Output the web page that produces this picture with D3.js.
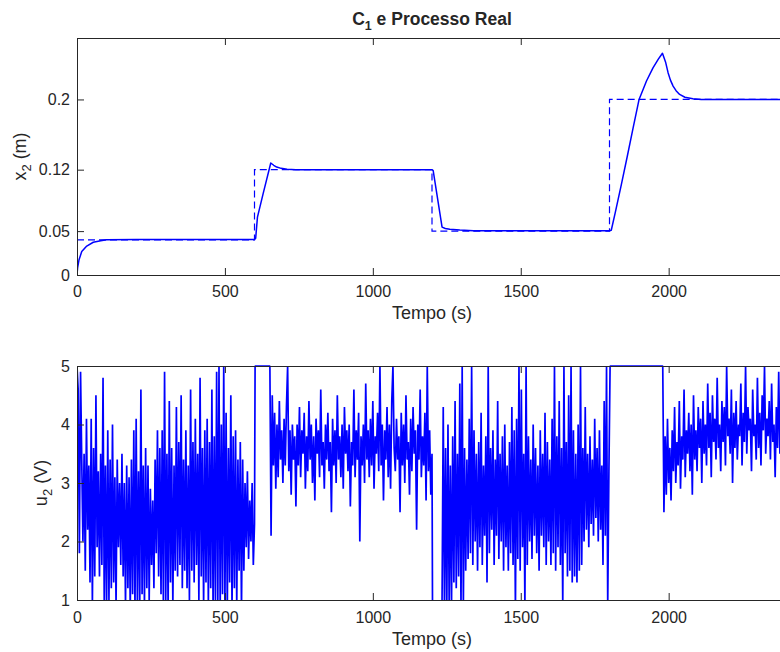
<!DOCTYPE html>
<html><head><meta charset="utf-8">
<script src="https://cdn.jsdelivr.net/npm/d3@7"></script>
<style>
body{margin:0;background:#fff}
svg{display:block}
text{font-family:"Liberation Sans",Arial,Helvetica,sans-serif;fill:#262626}
</style>
</head><body>
<svg id="c" width="780" height="652"></svg>
<script>
// ---- data ----
const xTicks = [0, 500, 1000, 1500, 2000];
const x2Ticks = [0, 0.05, 0.12, 0.2];
const u2Ticks = [1, 2, 3, 4, 5];

// reference (setpoint), step after
const refTime  = [0, 600, 1200, 1800, 2400];
const refValue = [0.04, 0.12, 0.05, 0.2, 0.2];

// process output x2
const x2Time  = [0, 2, 6.6, 16, 33, 55, 80, 100, 200, 600, 604, 610, 629, 655, 665, 675, 690, 710, 740,
                 1200, 1204, 1234, 1245, 1260, 1294, 1340, 1800, 1806, 1820, 1840, 1860, 1880, 1900, 1925,
                 1947, 1965, 1979, 1990, 1998, 2006, 2015, 2025, 2037, 2055, 2082, 2110, 2400];
const x2Value = [0, 0.008, 0.017, 0.0267, 0.033, 0.0373, 0.039, 0.0402, 0.0405, 0.0405, 0.042, 0.066, 0.0925, 0.1276, 0.125, 0.123, 0.1215, 0.1205, 0.12,
                 0.12, 0.119, 0.0545, 0.053, 0.052, 0.0512, 0.0505, 0.0505, 0.051, 0.072, 0.103, 0.135, 0.168, 0.2, 0.221,
                 0.236, 0.246, 0.2526, 0.242, 0.2305, 0.222, 0.2152, 0.21, 0.2057, 0.2025, 0.2008, 0.2, 0.2];

// control signal u2, sampled every u2Dt seconds in four segments
const u2Dt = 4;
const u2StartA = 0;
const u2A = [
 5, 4.6, 1.8, 4.9, 3.4, 2.0, 3.5, 1.5, 4.1, 2.2,
 3.3, 1.3, 4.1, 0.9, 3.6, 1.4, 4.5, 1.9, 3.2, 1.4,
 3.5, 1.6, 4.8, 1.0, 3.3, 0.8, 3.9, 1.0, 3.4, 1.2,
 4.0, 1.3, 3.1, 0.9, 3.4, 1.9, 3.0, 1.6, 3.5, 1.4,
 3.0, 0.9, 3.3, 1.2, 3.1, 0.8, 3.4, 1.1, 3.9, 0.8,
 4.1, 1.0, 3.2, 0.8, 4.6, 1.1, 3.3, 0.9, 3.6, 1.2,
 3.3, 1.0, 2.9, 1.6, 2.7, 1.2, 3.4, 1.8, 3.9, 1.4,
 3.6, 1.1, 3.9, 0.9, 4.9, 1.0, 3.5, 0.8, 4.4, 1.3,
 3.6, 0.9, 3.3, 1.5, 4.3, 1.4, 3.7, 1.6, 4.5, 1.2,
 3.4, 1.5, 3.9, 1.2, 3.3, 1.0, 4.6, 1.5, 3.7, 1.3,
 4.1, 1.6, 3.5, 1.0, 4.8, 1.4, 3.6, 0.9, 3.9, 1.3,
 4.1, 0.9, 3.7, 1.2, 4.6, 0.8, 3.8, 0.9, 4.9, 1.0,
 5.0, 0.8, 4.0, 1.1, 5.0, 0.9, 4.2, 0.8, 3.6, 1.3,
 4.5, 0.8, 3.8, 1.2, 3.9, 0.9, 3.4, 1.5, 3.7, 0.8,
 3.4, 1.5, 3.0, 1.9, 3.2, 1.7, 2.7, 2.0, 3.0, 1.6,
 2.3];
const u2StartB = 656;
const u2B = [
 2.1, 4.5, 3.3, 4.2, 2.9, 4.0, 3.1, 4.4, 3.4, 3.9,
 3.0, 4.1, 3.3, 4.3, 5.0, 3.2, 3.9, 2.8, 4.0, 3.4,
 3.8, 2.6, 4.0, 3.3, 4.3, 3.1, 3.9, 3.5, 4.2, 2.9,
 3.8, 3.2, 4.4, 3.4, 4.0, 3.0, 3.8, 2.7, 4.1, 3.5,
 3.9, 3.1, 4.6, 3.3, 3.7, 2.9, 4.0, 3.4, 4.2, 3.2,
 3.7, 2.5, 4.1, 3.3, 3.9, 3.0, 4.5, 3.4, 3.8, 3.1,
 4.0, 2.9, 4.3, 3.5, 3.9, 3.2, 4.0, 2.6, 3.7, 3.3,
 4.6, 3.1, 3.9, 3.4, 4.2, 2.0, 3.8, 3.3, 4.0, 3.0,
 4.7, 3.4, 3.9, 3.1, 4.1, 3.3, 4.4, 2.9, 3.8, 3.5,
 4.2, 3.2, 5.0, 3.3, 4.0, 2.7, 3.9, 3.4, 4.3, 3.1,
 4.0, 2.9, 4.4, 5.0, 3.6, 3.2, 4.1, 3.4, 3.8, 2.5,
 4.2, 3.3, 4.0, 3.0, 4.5, 3.4, 3.7, 2.8, 4.1, 3.2,
 4.3, 3.5, 3.9, 2.2, 4.0, 3.4, 4.6, 3.1, 3.8, 3.3,
 4.2, 2.7, 5.0, 3.2, 3.9, 2.8, 3.5];
const u2StartC = 1234;
const u2C = [
 1.0, 4.3, 0.8, 3.6, 0.8, 4.0, 0.9, 3.3, 0.9, 3.8,
 1.3, 4.4, 1.2, 3.5, 1.4, 4.7, 0.8, 5.0, 0.9, 3.6,
 1.5, 3.4, 1.7, 4.1, 1.8, 5.0, 1.6, 3.9, 2.0, 3.5,
 1.5, 3.7, 1.9, 4.2, 1.6, 3.3, 2.1, 3.8, 1.3, 5.0,
 1.8, 3.6, 2.2, 3.9, 1.6, 3.4, 2.1, 4.4, 1.7, 3.5,
 2.0, 3.8, 1.5, 4.0, 1.9, 3.3, 1.5, 3.7, 1.8, 4.3,
 1.6, 3.9, 0.8, 4.1, 1.7, 5.0, 1.5, 4.6, 1.9, 3.5,
 0.9, 5.0, 1.6, 3.8, 2.0, 3.4, 1.7, 4.0, 2.1, 3.6,
 1.8, 3.3, 1.5, 3.9, 2.1, 3.5, 1.9, 4.2, 1.6, 3.7,
 2.0, 3.4, 1.6, 4.1, 1.8, 5.0, 1.5, 3.8, 1.9, 4.4,
 1.6, 3.6, 0.9, 5.0, 1.8, 3.7, 1.4, 4.5, 1.5, 5.0,
 1.3, 3.9, 1.4, 3.5, 1.3, 4.0, 1.5, 5.0, 1.6, 3.6,
 2.0, 4.3, 2.2, 3.5, 1.9, 3.8, 2.3, 3.4, 2.1, 4.1,
 2.4, 3.6, 2.0, 3.9, 2.2, 3.3, 1.6, 4.4, 2.1, 5.0,
 0.9, 3.2];
const u2StartD = 1984;
const u2D = [
 2.5, 3.8, 2.8, 4.1, 3.0, 3.6, 2.7, 3.9, 3.2, 4.3,
 3.0, 3.7, 3.3, 4.4, 2.9, 3.8, 3.4, 4.6, 3.1, 3.9,
 3.5, 4.2, 3.2, 4.0, 2.8, 4.5, 3.4, 3.9, 3.2, 4.3,
 3.6, 4.1, 3.0, 4.4, 3.5, 4.0, 3.3, 4.7, 3.6, 4.2,
 3.1, 4.5, 3.7, 4.1, 3.4, 4.8, 3.6, 4.0, 3.2, 4.4,
 3.7, 4.3, 3.3, 5.0, 3.8, 4.1, 3.5, 4.6, 3.0, 4.2,
 3.6, 4.4, 3.4, 4.0, 3.8, 4.7, 3.3, 4.2, 3.7, 5.0,
 3.5, 4.3, 3.9, 4.1, 3.2, 4.6, 3.8, 4.0, 3.4, 4.8,
 3.6, 4.2, 3.3, 4.5, 3.9, 5.0, 3.5, 4.1, 3.8, 4.4,
 3.4, 4.7, 3.7, 4.0, 3.1, 4.3, 3.6, 4.9, 3.5, 4.2,
 3.8, 4.4, 3.3, 4.1, 3.7];
// saturated stretches (upper limit 5, lower below axis)
const u2SatTime  = [602, 652, 1202, 1230, 1802, 1980];
const u2SatValue = [5, 5, 0.5, 0.5, 5, 5];

// ---- drawing ----
const svg = d3.select("#c");
const L = 77, R = 787;
const top1 = 38, bot1 = 275, top2 = 366, bot2 = 600;
const x = d3.scaleLinear().domain([0, 2400]).range([L, R]);
const y1 = d3.scaleLinear().domain([0, 0.27]).range([bot1, top1]);
const y2 = d3.scaleLinear().domain([1, 5]).range([bot2, top2]);
const axisColor = "#262626";
const fontFam = '"Liberation Sans",Arial,Helvetica,sans-serif';
const fmt = d => String(d);

const defs = svg.append("defs");
defs.append("clipPath").attr("id", "clip1").append("rect")
  .attr("x", L).attr("y", top1 - 1).attr("width", R - L).attr("height", bot1 - top1 + 2);
defs.append("clipPath").attr("id", "clip2").append("rect")
  .attr("x", L).attr("y", top2 - 1).attr("width", R - L).attr("height", bot2 - top2 + 1);

function styleAxis(g, showLabels) {
  g.attr("font-size", 16).attr("font-family", fontFam);
  g.select(".domain").attr("stroke", axisColor);
  g.selectAll(".tick line").attr("stroke", axisColor);
  g.selectAll(".tick text").attr("fill", axisColor);
  if (!showLabels) g.selectAll(".tick text").remove();
}

function drawAxes(y, yTicks, top, bot, pad) {
  svg.append("g").attr("transform", `translate(0,${bot})`)
    .call(d3.axisBottom(x).tickValues(xTicks).tickFormat(fmt).tickSizeInner(-7).tickSizeOuter(0).tickPadding(pad))
    .call(g => styleAxis(g, true));
  svg.append("g").attr("transform", `translate(0,${top})`)
    .call(d3.axisTop(x).tickValues(xTicks).tickSizeInner(-7).tickSizeOuter(0))
    .call(g => styleAxis(g, false));
  svg.append("g").attr("transform", `translate(${L},0)`)
    .call(d3.axisLeft(y).tickValues(yTicks).tickFormat(fmt).tickSizeInner(-7).tickSizeOuter(0).tickPadding(7))
    .call(g => styleAxis(g, true));
  svg.append("g").attr("transform", `translate(${R},0)`)
    .call(d3.axisRight(y).tickValues(yTicks).tickSizeInner(-7).tickSizeOuter(0))
    .call(g => styleAxis(g, false));
}

// ---- top plot ----
const refData = refTime.map((t, i) => [t, refValue[i]]);
const x2Data = x2Time.map((t, i) => [t, x2Value[i]]);

const gp1 = svg.append("g").attr("clip-path", "url(#clip1)");
gp1.append("path").datum(refData)
  .attr("d", d3.line().x(d => x(d[0])).y(d => y1(d[1])).curve(d3.curveStepAfter))
  .attr("fill", "none").attr("stroke", "#0000ff").attr("stroke-width", 1.2)
  .attr("stroke-dasharray", "7,4");
gp1.append("path").datum(x2Data)
  .attr("d", d3.line().x(d => x(d[0])).y(d => y1(d[1])))
  .attr("fill", "none").attr("stroke", "#0000ff").attr("stroke-width", 1.5)
  .attr("stroke-linejoin", "round");

drawAxes(y1, x2Ticks, top1, bot1, 10.5);

// ---- bottom plot ----
const segs = [[u2StartA, u2A], [u2StartB, u2B], [u2StartC, u2C], [u2StartD, u2D]];
let u2Data = segs.flatMap(([s, vals]) => vals.map((v, i) => [s + i * u2Dt, v]));
u2Data = u2Data.concat(u2SatTime.map((t, i) => [t, u2SatValue[i]]));
u2Data.sort((a, b) => a[0] - b[0]);

svg.append("g").attr("clip-path", "url(#clip2)")
  .append("path").datum(u2Data)
  .attr("d", d3.line().x(d => x(d[0])).y(d => y2(d[1])))
  .attr("fill", "none").attr("stroke", "#0000ff").attr("stroke-width", 1.7)
  .attr("stroke-linejoin", "bevel");

drawAxes(y2, u2Ticks, top2, bot2, 11.5);

// ---- texts ----
const title = svg.append("text").attr("x", (L + R) / 2).attr("y", 24.5)
  .attr("text-anchor", "middle").attr("font-size", 17.5).attr("font-weight", "bold");
title.append("tspan").text("C");
title.append("tspan").attr("font-size", 12.5).attr("dy", 5).text("1");
title.append("tspan").attr("dy", -5).text(" e Processo Real");

svg.append("text").attr("x", (L + R) / 2).attr("y", 319).attr("text-anchor", "middle")
  .attr("font-size", 18).text("Tempo (s)");
svg.append("text").attr("x", (L + R) / 2).attr("y", 645).attr("text-anchor", "middle")
  .attr("font-size", 18).text("Tempo (s)");

function yLabel(cx, cy, main, sub, unit) {
  const t = svg.append("text").attr("transform", `translate(${cx},${cy}) rotate(-90)`)
    .attr("text-anchor", "middle").attr("font-size", 18);
  t.append("tspan").text(main);
  t.append("tspan").attr("font-size", 13).attr("dy", 5).text(sub);
  t.append("tspan").attr("dy", -5).text(" " + unit);
}
yLabel(26, (top1 + bot1) / 2, "x", "2", "(m)");
yLabel(47, (top2 + bot2) / 2, "u", "2", "(V)");
</script>
</body></html>
